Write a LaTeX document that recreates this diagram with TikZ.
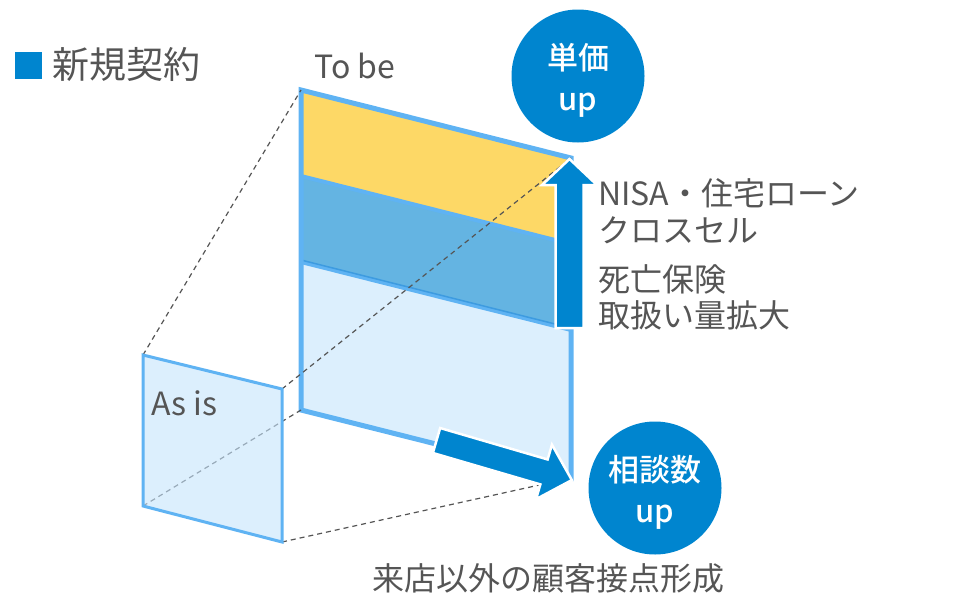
\documentclass[tikz,border=0pt]{standalone}
\usepackage{fontspec}
\setmainfont{Noto Sans CJK JP}
\newfontfamily\badgefont{Noto Sans CJK JP}[UprightFont={* Medium}]
\usepackage{xcolor}
\definecolor{darkblue}{HTML}{0085CF}
\definecolor{sky}{HTML}{5FB3F3}
\definecolor{lineblue}{HTML}{3D9BE0}
\definecolor{midblue}{HTML}{64B4E2}
\definecolor{pale}{HTML}{DCEFFD}
\definecolor{paleglass}{HTML}{C5E4FC}
\definecolor{gold}{HTML}{FDD866}
\definecolor{txt}{HTML}{555555}

\begin{document}
\begin{tikzpicture}[x=1pt,y=1pt,
    dashline/.style={draw=txt, line width=1.2pt, dash pattern=on 5pt off 4pt},
    bigarrow/.style={fill=darkblue, draw=white, line width=2.5pt, line join=miter},
    badge/.style={circle, fill=darkblue, minimum size=133pt, inner sep=0pt},
    badgetext/.style={text=white, inner sep=0pt, align=center, font=\badgefont\fontsize{31}{41}\selectfont},
    note/.style={anchor=base west, text=txt, inner sep=0pt, font=\fontsize{32}{37}\selectfont}]
                        \useasboundingbox (0,0) rectangle (972,-597);
                        % corners of the To be panel
                        \coordinate (tl) at (301,-90);
                        \coordinate (tr) at (571,-158);
                        \coordinate (br) at (571,-478);
                        \coordinate (bl) at (301,-410);
                        \coordinate (m1l) at (301,-176);
                        \coordinate (m1r) at (571,-244);
                        \coordinate (m2l) at (301,-262);
                        \coordinate (m2r) at (571,-330);
                        % corners of the As is panel
                        \coordinate (stl) at (143,-355);
                        \coordinate (str) at (282,-389);
                        \coordinate (sbr) at (282,-542);
                        \coordinate (sbl) at (143,-506);

                    \fill [gold] (tl) -- (tr) -- (m1r) -- (m1l) -- cycle;
                        \fill [midblue] (m1l) -- (m1r) -- (m2r) -- (m2l) -- cycle;
                        \fill [pale] (m2l) -- (m2r) -- (br) -- (bl) -- cycle;
                        \draw [sky, line width=4pt] (m1l) -- (m1r) (m2l) -- (m2r);
                        \draw [lineblue, line width=1.5pt] ([yshift=2pt]m2l) -- ([yshift=2pt]m2r);
                        \draw [sky, line width=5pt] (tl) -- (tr) -- (br) -- (bl) -- cycle;

                    \draw [dashline] (stl) -- (tl) (str) -- (tr) (sbr) -- (br) (sbl) -- (bl);
                        \filldraw [fill=paleglass, fill opacity=0.6, draw=sky, line width=3pt] (stl) -- (str) -- (sbr) -- (sbl) -- cycle;

                    \draw [bigarrow, shift={(569.5,-328)}, rotate=90] (0,14) -- (143,14) -- (143,27.5) -- (169,0) -- (143,-27.5) -- (143,-14) -- (0,-14) -- cycle;
                        \draw [bigarrow, shift={(436.5,-440.5)}, rotate=-16.3] (0,13) -- (112,13) -- (112,28.4) -- (141,0) -- (112,-28.4) -- (112,-13) -- (0,-13) -- cycle;

                    \node (price) at (578,-76) [badge] {};
                        \node (pricetext) at ([yshift=-4pt]price.center) [badgetext] {単価\\up};
                        \node (visits) at (655,-488) [badge] {};
                        \node (visitstext) at ([yshift=-4pt]visits.center) [badgetext] {相談数\\up};

                    \node (legendbox) at (28.5,-65) [fill=darkblue, minimum size=27pt, inner sep=0pt] {};
                        \node (legend) at (52,-78) [note, font=\fontsize{37}{40}\selectfont] {新規契約};
                        \node (tobe) at (314,-78) [note] {To be};
                        \node (asis) at (151,-415) [note] {As is};
                        \node (nisa) at (598,-205) [note] {NISA・住宅ローン};
                        \node (cross) at (598,-242) [note] {クロスセル};
                        \node (death) at (598,-291) [note] {死亡保険};
                        \node (volume) at (598,-327) [note] {取扱い量拡大};
                        \node (contact) at (548,-590) [note, anchor=base] {来店以外の顧客接点形成};
                    \end{tikzpicture}
\end{document}
